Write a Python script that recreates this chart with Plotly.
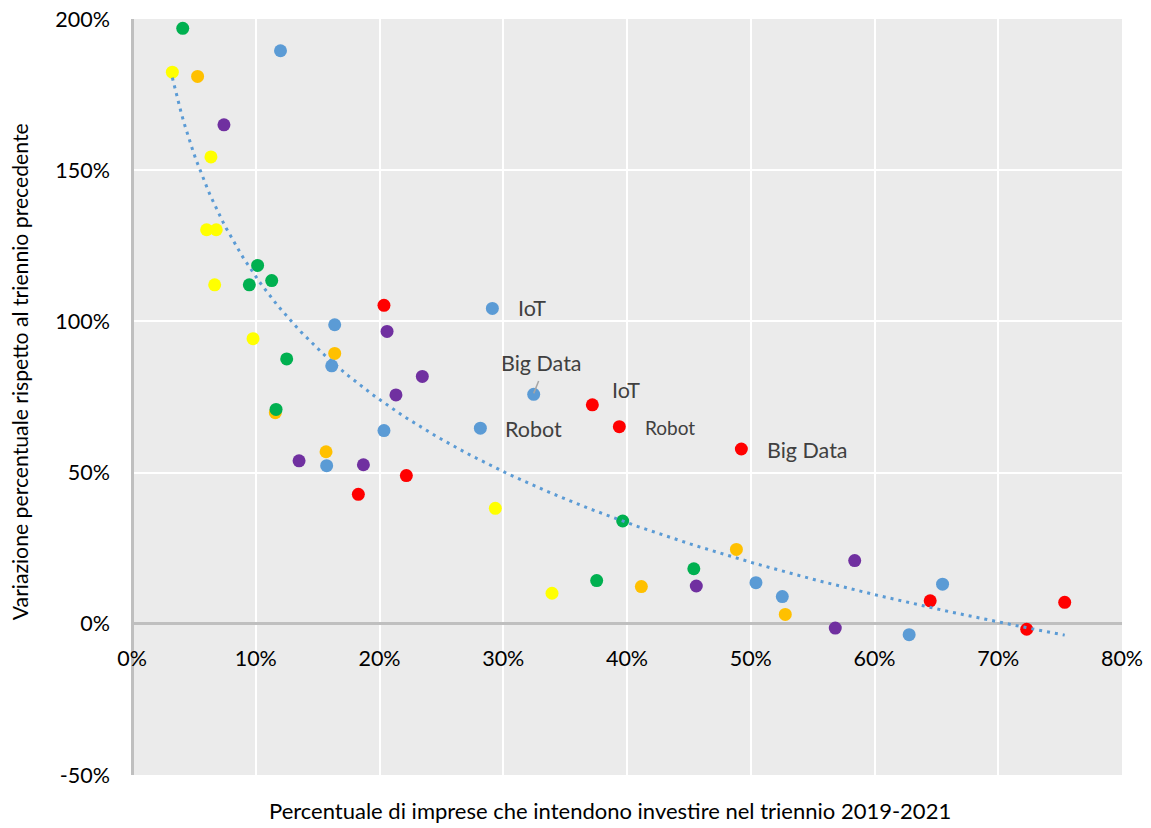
import numpy as np
import plotly.graph_objects as go

# ---- data (percent units) ----
green_x = [4.1, 10.15, 11.29, 9.48, 12.5, 11.64, 39.65, 45.4, 37.55]
green_y = [196.9, 118.5, 113.5, 112.1, 87.6, 70.9, 34.0, 18.2, 14.3]

yellow_x = [3.26, 6.38, 6.03, 6.81, 6.68, 9.78, 29.36, 33.94]
yellow_y = [182.4, 154.4, 130.3, 130.3, 112.1, 94.3, 38.2, 10.1]

orange_x = [5.3, 16.38, 11.58, 15.68, 48.84, 41.16, 52.79]
orange_y = [181.0, 89.4, 69.8, 56.9, 24.6, 12.3, 3.1]

purple_x = [7.43, 20.61, 23.46, 21.33, 13.5, 18.7, 58.4, 45.6, 56.83]
purple_y = [165.0, 96.7, 81.8, 75.7, 53.9, 52.6, 20.9, 12.5, -1.4]

blue_x = [12.0, 16.38, 16.14, 20.36, 15.73, 29.12, 32.46, 28.15, 50.42, 52.55, 65.5, 62.8]
blue_y = [189.5, 98.9, 85.3, 63.9, 52.3, 104.3, 75.9, 64.7, 13.6, 9.0, 13.1, -3.6]

red_x = [20.36, 22.17, 18.29, 37.2, 39.38, 49.24, 64.5, 75.37, 72.3]
red_y = [105.3, 49.0, 42.8, 72.4, 65.2, 57.8, 7.6, 7.1, -1.8]

x_ticks = [0, 10, 20, 30, 40, 50, 60, 70, 80]
x_tick_labels = ["0%", "10%", "20%", "30%", "40%", "50%", "60%", "70%", "80%"]
y_ticks = [-50, 0, 50, 100, 150, 200]
y_tick_labels = ["-50%", "0%", "50%", "100%", "150%", "200%"]

label_texts = ["IoT", "Big Data", "Robot", "IoT", "Robot", "Big Data"]

series = [
    (yellow_x, yellow_y, "#ffff00"),
    (orange_x, orange_y, "#ffc000"),
    (green_x, green_y, "#00b050"),
    (purple_x, purple_y, "#7030a0"),
    (blue_x, blue_y, "#5b9bd5"),
    (red_x, red_y, "#ff0000"),
]

FONT = "Lato, Carlito, Calibri, sans-serif"

fig = go.Figure()

# logarithmic trendline fitted on all points (like Excel)
all_x = np.array(sum([s[0] for s in series], []), dtype=float)
all_y = np.array(sum([s[1] for s in series], []), dtype=float)
a, b = np.polyfit(np.log(all_x), all_y, 1)
tx = np.linspace(all_x.min(), all_x.max(), 300)
ty = a * np.log(tx) + b

for sx, sy, col in series:
    fig.add_trace(go.Scatter(x=sx, y=sy, mode="markers",
                             marker=dict(size=13, color=col, line=dict(width=0)),
                             showlegend=False))

fig.add_trace(go.Scatter(x=tx, y=ty, mode="lines",
                         line=dict(color="#5b9bd5", width=3, dash="3px,5px"),
                         showlegend=False, hoverinfo="skip"))

# data labels
lab_font = dict(family=FONT, size=21.5, color="#404040")
lab_font_small = dict(family=FONT, size=19, color="#404040")
labels = [
    (31.03, 104.3, label_texts[0], lab_font),
    (29.66, 86.3, label_texts[1], lab_font),
    (30.0, 64.5, label_texts[2], lab_font),
    (38.63, 77.3, label_texts[3], lab_font),
    (41.26, 65.0, label_texts[4], lab_font_small),
    (51.15, 57.5, label_texts[5], lab_font),
]
for lx, ly, t, f in labels:
    fig.add_annotation(x=lx, y=ly, text=t, showarrow=False, xanchor="left",
                       yanchor="middle", font=f, xref="x", yref="y")

# leader line for blue Big Data label
fig.add_shape(type="line", x0=32.46, y0=76.2, x1=32.86, y1=80.3,
              xref="x", yref="y", line=dict(color="#a6a6a6", width=1.5))

# axis titles
fig.add_annotation(x=0.483, y=-0.0463, xref="paper", yref="paper",
                   text="Percentuale di imprese che intendono investire nel triennio 2019-2021",
                   showarrow=False, xanchor="center", yanchor="middle",
                   font=dict(family=FONT, size=22, color="#000000"))
fig.add_annotation(x=-0.113, y=0.533, xref="paper", yref="paper",
                   text="Variazione percentuale rispetto al triennio precedente",
                   showarrow=False, xanchor="center", yanchor="middle", textangle=-90,
                   font=dict(family=FONT, size=21.2, color="#000000"))

tick_font = dict(family=FONT, size=21.5, color="#000000")

fig.update_layout(
    width=1151, height=828,
    margin=dict(l=132, r=29, t=19, b=53),
    paper_bgcolor="white",
    plot_bgcolor="#ebebeb",
    xaxis=dict(range=[0, 80], tickvals=x_ticks, ticktext=x_tick_labels,
               showgrid=True, gridcolor="white", gridwidth=1.5,
               zeroline=True, zerolinecolor="#bfbfbf", zerolinewidth=2.5,
               showline=False, ticks="", tickfont=tick_font, ticklabelstandoff=20,
               ticklabeloverflow="allow", automargin=False,
               anchor="free", position=0.2, fixedrange=True),
    yaxis=dict(range=[-50, 200], tickvals=y_ticks, ticktext=y_tick_labels,
               showgrid=True, gridcolor="white", gridwidth=1.5,
               zeroline=True, zerolinecolor="#bfbfbf", zerolinewidth=2.5,
               showline=False, ticks="", tickfont=tick_font, ticklabelstandoff=21,
               ticklabeloverflow="allow", automargin=False,
               fixedrange=True),
    font=dict(family=FONT),
)

fig.write_html("out.html", config={"displayModeBar": False},
               post_script="document.body.style.margin='0';document.body.style.overflow='hidden';")
